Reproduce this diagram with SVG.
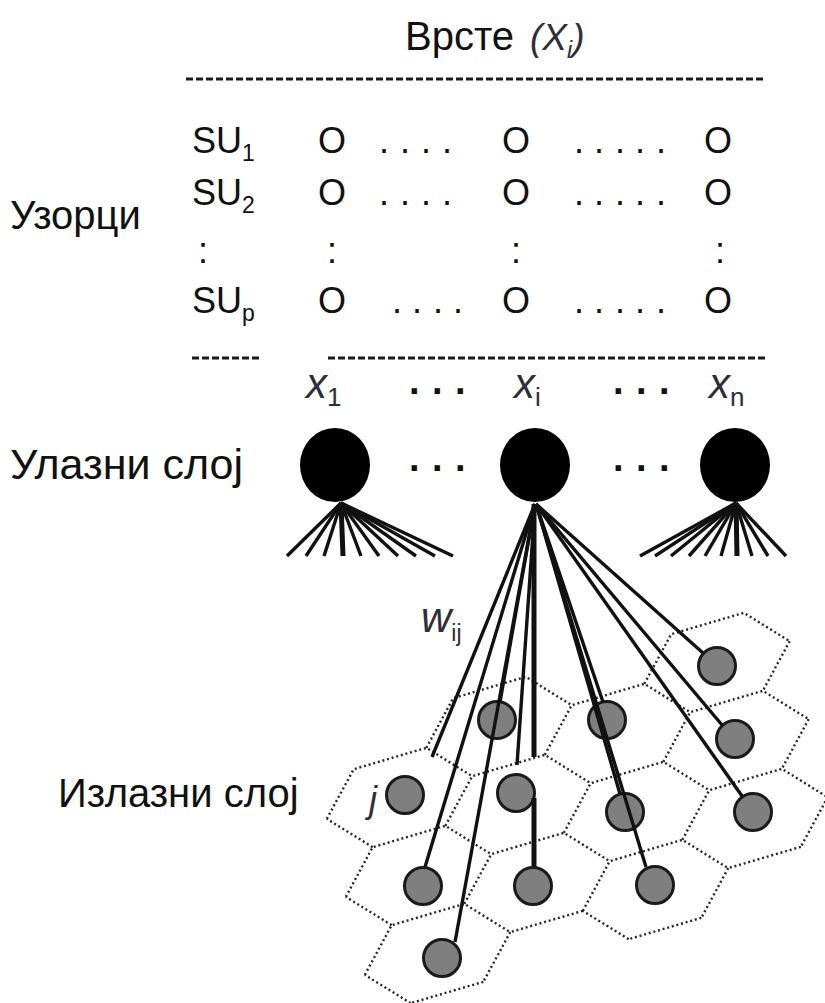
<svg xmlns="http://www.w3.org/2000/svg" xmlns:xlink="http://www.w3.org/1999/xlink" width="825" height="1003" viewBox="0 0 825 1003">
<style>
text { font-family: "Liberation Sans", Arial, sans-serif; fill: #111; }
.lbl { font-size: 40px; }
.lbl2 { font-size: 43px; }
.tb { font-size: 36px; }
.sub { font-size: 23px; }
.it { font-style: italic; fill: #2e2e3a; }
.bd { font-weight: bold; font-size: 38px; }
.dash { stroke: #1a1a1a; stroke-width: 3; stroke-dasharray: 7 3; fill: none; }
.fan { stroke: #111; stroke-width: 3.4; fill: none; }
.thick { stroke-width: 5; }
.hex { fill: none; stroke: #262626; stroke-width: 2.4; stroke-dasharray: 2 2.8; }
.out { fill: #7f7f7f; stroke: #1a1a1a; stroke-width: 3; }
.in { fill: #000; }
</style>
<defs>
<path id="hu" d="M-72.67 21.33 L-45.83 -28.33 L26.83 -49.67 L72.67 -21.33"/>
<path id="e01" d="M72.67 -21.33 L45.83 28.33"/>
<path id="e12" d="M45.83 28.33 L-26.83 49.67"/>
<path id="e23" d="M-26.83 49.67 L-72.67 21.33"/>
</defs>
<rect width="825" height="1003" fill="#fff"/>

<g id="title">
<text class="lbl" x="405" y="50">Врсте</text>
<text class="it" x="530" y="50" font-size="37">(X<tspan font-size="23" dy="8">i</tspan><tspan dy="-8">)</tspan></text>
</g>

<g id="table">
<line class="dash" x1="186" y1="79" x2="765" y2="79"/>
<text class="tb" x="192" y="153">SU<tspan class="sub" dy="8">1</tspan></text>
<text class="tb" x="192" y="205">SU<tspan class="sub" dy="8">2</tspan></text>
<text class="tb" x="198" y="263">:</text>
<text class="tb" x="192" y="313">SU<tspan class="sub" dy="8">p</tspan></text>
<text class="tb" text-anchor="middle" x="332" y="153">O</text>
<text class="tb" text-anchor="middle" x="516" y="153">O</text>
<text class="tb" text-anchor="middle" x="718" y="153">O</text>
<text class="tb" text-anchor="middle" x="332" y="205">O</text>
<text class="tb" text-anchor="middle" x="516" y="205">O</text>
<text class="tb" text-anchor="middle" x="718" y="205">O</text>
<text class="tb" text-anchor="middle" x="332" y="263">:</text>
<text class="tb" text-anchor="middle" x="516" y="263">:</text>
<text class="tb" text-anchor="middle" x="720" y="263">:</text>
<text class="tb" text-anchor="middle" x="332" y="313">O</text>
<text class="tb" text-anchor="middle" x="516" y="313">O</text>
<text class="tb" text-anchor="middle" x="718" y="313">O</text>
<text class="tb" y="153" x="379 400 421 442">....</text>
<text class="tb" y="153" x="574 594 615 635 656">.....</text>
<text class="tb" y="205" x="379 400 421 442">....</text>
<text class="tb" y="205" x="574 594 615 635 656">.....</text>
<text class="tb" y="313" x="392 412 433 453">....</text>
<text class="tb" y="313" x="574 594 615 635 656">.....</text>
<line class="dash" x1="192" y1="358" x2="262" y2="358"/>
<line class="dash" x1="328" y1="358" x2="765" y2="358"/>
</g>

<g id="label-patterns"><text class="lbl" x="10" y="229">Узорци</text></g>
<g id="label-input"><text class="lbl2" x="10" y="479">Улазни слој</text></g>
<g id="label-output"><text class="lbl" x="58" y="807">Излазни слој</text></g>

<g id="grid">
<use class="hex" xlink:href="#hu" href="#hu" x="717" y="662.5"/>
<use class="hex" xlink:href="#e01" href="#e01" x="717" y="662.5"/>
<use class="hex" xlink:href="#hu" href="#hu" x="499" y="726.5"/>
<use class="hex" xlink:href="#hu" href="#hu" x="617.5" y="733.5"/>
<use class="hex" xlink:href="#hu" href="#hu" x="736" y="740.5"/>
<use class="hex" xlink:href="#e01" href="#e01" x="736" y="740.5"/>
<use class="hex" xlink:href="#hu" href="#hu" x="399.5" y="797.5"/>
<use class="hex" xlink:href="#e23" href="#e23" x="399.5" y="797.5"/>
<use class="hex" xlink:href="#hu" href="#hu" x="518" y="804.5"/>
<use class="hex" xlink:href="#hu" href="#hu" x="636.5" y="811.5"/>
<use class="hex" xlink:href="#hu" href="#hu" x="755" y="818.5"/>
<use class="hex" xlink:href="#e01" href="#e01" x="755" y="818.5"/>
<use class="hex" xlink:href="#e12" href="#e12" x="755" y="818.5"/>
<use class="hex" xlink:href="#hu" href="#hu" x="418.5" y="875.5"/>
<use class="hex" xlink:href="#e23" href="#e23" x="418.5" y="875.5"/>
<use class="hex" xlink:href="#hu" href="#hu" x="537" y="882.5"/>
<use class="hex" xlink:href="#e12" href="#e12" x="537" y="882.5"/>
<use class="hex" xlink:href="#hu" href="#hu" x="655.5" y="889.5"/>
<use class="hex" xlink:href="#e01" href="#e01" x="655.5" y="889.5"/>
<use class="hex" xlink:href="#e12" href="#e12" x="655.5" y="889.5"/>
<use class="hex" xlink:href="#e23" href="#e23" x="655.5" y="889.5"/>
<use class="hex" xlink:href="#hu" href="#hu" x="437.5" y="953.5"/>
<use class="hex" xlink:href="#e01" href="#e01" x="437.5" y="953.5"/>
<use class="hex" xlink:href="#e12" href="#e12" x="437.5" y="953.5"/>
<use class="hex" xlink:href="#e23" href="#e23" x="437.5" y="953.5"/>
</g>

<g id="output-neurons">
<circle id="o1" class="out" cx="717" cy="666" r="18.5"/>
<circle id="o2" class="out" cx="497" cy="720" r="18.5"/>
<circle id="o3" class="out" cx="607" cy="720" r="18.5"/>
<circle id="o4" class="out" cx="735" cy="739" r="18.5"/>
<circle id="o5" class="out" cx="405" cy="795" r="18.5"/>
<circle id="o6" class="out" cx="516" cy="793" r="18.5"/>
<circle id="o7" class="out" cx="625" cy="812" r="18.5"/>
<circle id="o8" class="out" cx="753" cy="812" r="18.5"/>
<circle id="o9" class="out" cx="423" cy="886" r="18.5"/>
<circle id="o10" class="out" cx="533" cy="886" r="18.5"/>
<circle id="o11" class="out" cx="655" cy="885" r="18.5"/>
<circle id="o12" class="out" cx="442" cy="958" r="18.5"/>
<text class="it" x="369" y="812" font-size="36">j</text>
</g>

<g id="connectors">
<g class="fan">
<line x1="341" y1="503" x2="287" y2="556"/>
<line x1="341" y1="503" x2="306" y2="556"/>
<line x1="341" y1="503" x2="324" y2="556"/>
<line x1="341" y1="503" x2="343" y2="556" class="thick"/>
<line x1="341" y1="503" x2="361" y2="556"/>
<line x1="341" y1="503" x2="379" y2="556"/>
<line x1="341" y1="503" x2="398" y2="556"/>
<line x1="341" y1="503" x2="416" y2="556"/>
<line x1="341" y1="503" x2="435" y2="556"/>
<line x1="341" y1="503" x2="453" y2="556"/>
<line x1="736" y1="503" x2="640" y2="556"/>
<line x1="736" y1="503" x2="655" y2="556"/>
<line x1="736" y1="503" x2="671" y2="556"/>
<line x1="736" y1="503" x2="689" y2="556"/>
<line x1="736" y1="503" x2="705" y2="556"/>
<line x1="736" y1="503" x2="721" y2="556"/>
<line x1="736" y1="503" x2="737" y2="556" class="thick"/>
<line x1="736" y1="503" x2="752" y2="556"/>
<line x1="736" y1="503" x2="768" y2="556"/>
<line x1="736" y1="503" x2="786" y2="556"/>
<line x1="535" y1="504" x2="432" y2="757"/>
<line x1="535" y1="504" x2="425" y2="867"/>
<line x1="535" y1="504" x2="500" y2="702"/>
<line x1="535" y1="504" x2="455" y2="942"/>
<line x1="535" y1="504" x2="517" y2="765"/>
<line x1="534" y1="504" x2="534" y2="757" class="thick"/>
<line x1="534" y1="798" x2="534" y2="867" class="thick"/>
<line x1="536" y1="504" x2="603" y2="702"/>
<line x1="536" y1="504" x2="620" y2="794"/>
<line x1="536" y1="504" x2="646" y2="867"/>
<line x1="536" y1="504" x2="703" y2="653"/>
<line x1="536" y1="504" x2="722" y2="725"/>
<line x1="536" y1="504" x2="742" y2="796"/>
</g>
<text class="it" x="421" y="632" font-size="42">w<tspan font-style="normal" font-size="23" dy="9">ij</tspan></text>
</g>

<g id="input-neurons">
<ellipse id="in1" class="in" cx="335" cy="465" rx="35" ry="37"/>
<ellipse id="in2" class="in" cx="535" cy="465" rx="35" ry="37"/>
<ellipse id="in3" class="in" cx="735" cy="465" rx="35" ry="37"/>
<text class="it" x="306" y="398" font-size="42">x<tspan font-style="normal" font-size="26" dy="8">1</tspan></text>
<text class="it" x="514" y="398" font-size="42">x<tspan font-style="normal" font-size="26" dy="8">i</tspan></text>
<text class="it" x="709" y="398" font-size="42">x<tspan font-style="normal" font-size="26" dy="8">n</tspan></text>
<text class="bd" y="394" x="409 432 455">...</text>
<text class="bd" y="394" x="613 636 659">...</text>
<text class="bd" y="471" x="409 432 455">...</text>
<text class="bd" y="471" x="613 636 659">...</text>
</g>
</svg>
